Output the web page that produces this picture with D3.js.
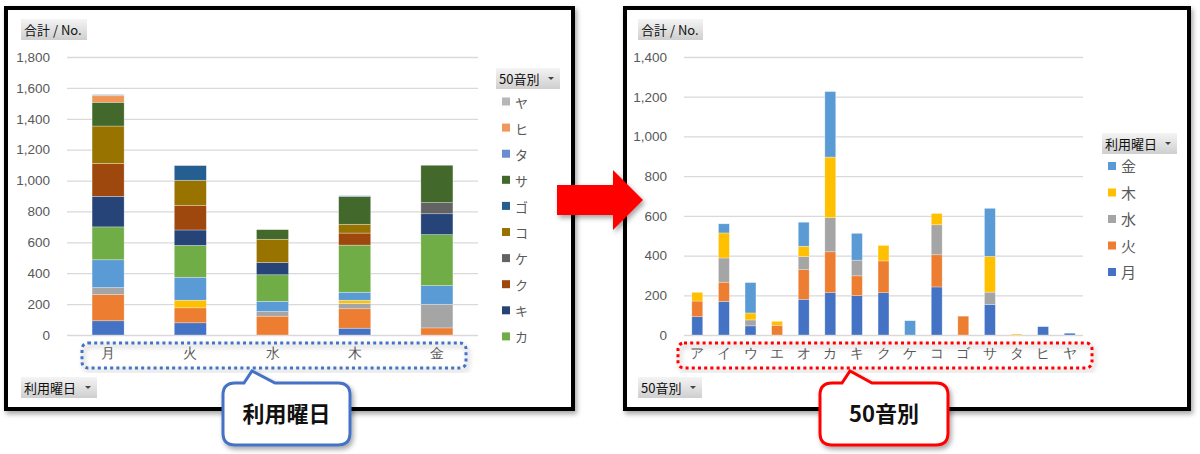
<!DOCTYPE html>
<html>
<head>
<meta charset="utf-8">
<script src="https://cdn.jsdelivr.net/npm/d3@7"></script>
<style>
  body { margin: 0; background: #fff; }
  svg { display: block; font-family: "Noto Sans CJK JP", "Noto Sans", sans-serif; }
  .tick line { stroke: #d9d9d9; }
  .tick text { fill: #595959; }
</style>
</head>
<body>
<div id="chart"></div>
<script>
// pivot charts: same table shown by weekday and by kana

const kana = ['ア', 'イ', 'ウ', 'エ', 'オ', 'カ', 'キ', 'ク', 'ケ', 'コ', 'ゴ', 'サ', 'タ', 'ヒ', 'ヤ'];
const days = ['月', '火', '水', '木', '金'];

// counts per kana, one array per weekday
const mon = [92, 169, 46, 0, 180, 213, 198, 213, 0, 242, 0, 154, 0, 42, 9];
const tue = [79, 97, 0, 49, 149, 206, 100, 160, 0, 162, 95, 0, 0, 0, 0];
const wed = [0, 122, 30, 0, 66, 172, 79, 0, 0, 151, 0, 62, 0, 0, 0];
const thu = [44, 126, 35, 20, 52, 305, 0, 78, 0, 57, 0, 180, 5, 0, 0];
const fri = [0, 46, 153, 0, 121, 330, 135, 0, 72, 0, 0, 242, 0, 0, 0];

const kanaColors = ['#4472C4', '#ED7D31', '#A5A5A5', '#FFC000', '#5B9BD5', '#70AD47', '#264478',
    '#9E480E', '#636363', '#997300', '#255E91', '#43682B', '#698ED0', '#F1975A', '#B7B7B7'];
const dayColors = ['#4472C4', '#ED7D31', '#A5A5A5', '#FFC000', '#5B9BD5'];

const leftTicks = [0, 200, 400, 600, 800, 1000, 1200, 1400, 1600, 1800];
const rightTicks = [0, 200, 400, 600, 800, 1000, 1200, 1400];

// the left legend is scrolled, only these entries show
const leftLegend = ['ヤ', 'ヒ', 'タ', 'サ', 'ゴ', 'コ', 'ケ', 'ク', 'キ', 'カ'];
const rightLegend = ['金', '木', '水', '火', '月'];

const dayValues = [mon, tue, wed, thu, fri];

const svg = d3.select('#chart').append('svg')
    .attr('width', 1200)
    .attr('height', 454);

const defs = svg.append('defs');
const shadow = defs.append('filter').attr('id', 'shadow')
    .attr('x', '-10%').attr('y', '-10%').attr('width', '130%').attr('height', '130%');
shadow.append('feDropShadow')
    .attr('dx', 2).attr('dy', 3).attr('stdDeviation', 2.5)
    .attr('flood-color', '#000').attr('flood-opacity', 0.35);

const btnGrad = defs.append('linearGradient').attr('id', 'btn')
    .attr('x1', 0).attr('y1', 0).attr('x2', 0).attr('y2', 1);
btnGrad.append('stop').attr('offset', '0%').attr('stop-color', '#f4f4f4');
btnGrad.append('stop').attr('offset', '100%').attr('stop-color', '#cfcfcf');

svg.append('rect').attr('width', 1200).attr('height', 454).attr('fill', '#fff');

// frames
svg.append('rect')
    .attr('x', 6).attr('y', 8).attr('width', 567).attr('height', 401)
    .attr('fill', '#fff').attr('stroke', '#000').attr('stroke-width', 4)
    .attr('filter', 'url(#shadow)');
svg.append('rect')
    .attr('x', 625).attr('y', 8).attr('width', 564).attr('height', 401)
    .attr('fill', '#fff').attr('stroke', '#000').attr('stroke-width', 4)
    .attr('filter', 'url(#shadow)');

function button(x, y, w, label, dropdown) {
    let g = svg.append('g').attr('transform', `translate(${x}, ${y})`);
    g.append('rect').attr('width', w).attr('height', 21).attr('fill', 'url(#btn)');
    g.append('text').attr('x', 3).attr('y', 15.5)
        .style('font-size', '13px').style('fill', '#111').text(label);
    if (dropdown) {
        g.append('path')
            .attr('d', `M${w - 12},9 l6,0 l-3,3 z`)
            .attr('fill', '#444');
    }
}

function drawChart(cfg) {
    let g = svg.append('g').attr('transform', `translate(${cfg.left}, ${cfg.top})`);

    let x = d3.scaleBand()
        .domain(cfg.categories)
        .range([0, cfg.width])
        .paddingInner(cfg.padding)
        .paddingOuter(cfg.padding / 2);

    let y = d3.scaleLinear()
        .domain([0, d3.max(cfg.ticks)])
        .range([cfg.height, 0]);

    // gridlines + y labels
    let yAxis = g.append('g')
        .call(d3.axisLeft(y).tickValues(cfg.ticks).tickFormat(d3.format(',')).tickSize(-cfg.width).tickPadding(17));
    yAxis.select('.domain').remove();
    yAxis.selectAll('text').style('font-size', '13.5px');
    yAxis.selectAll('line').attr('stroke', '#d9d9d9').attr('stroke-width', 1.3);

    let stack = d3.stack().keys(cfg.keys)(cfg.rows);

    g.selectAll('.series')
        .data(stack)
        .enter()
        .append('g')
        .attr('fill', (d, i) => cfg.colors[i])
        .selectAll('rect')
        .data(d => d.filter(p => p[1] > p[0]))
        .enter()
        .append('rect')
        .attr('x', d => x(d.data.name))
        .attr('width', x.bandwidth())
        .attr('y', d => y(d[1]))
        .attr('height', d => y(d[0]) - y(d[1]))
        .attr('stroke', 'rgba(255,255,255,0.5)')
        .attr('stroke-width', 0.6);

    // category labels
    let xAxis = g.append('g')
        .attr('transform', `translate(0, ${cfg.height})`)
        .call(d3.axisBottom(x).tickSize(0).tickPadding(13));
    xAxis.select('.domain').remove();
    xAxis.selectAll('text').style('font-size', '14px');

    // dotted box round the labels
    svg.append('rect')
        .attr('x', cfg.box[0]).attr('y', cfg.box[1])
        .attr('width', cfg.box[2]).attr('height', cfg.box[3])
        .attr('rx', 6)
        .attr('fill', 'none')
        .attr('stroke', cfg.boxColor)
        .attr('stroke-width', 3)
        .attr('stroke-dasharray', '3 3.2')
        .attr('filter', 'url(#shadow)');

    // legend
    let lg = svg.append('g').attr('transform', `translate(${cfg.legend.x}, ${cfg.legend.y})`);
    let items = lg.selectAll('g')
        .data(cfg.legend.names)
        .enter()
        .append('g')
        .attr('transform', (d, i) => `translate(0, ${i * cfg.legend.step})`);
    items.append('rect')
        .attr('x', 0).attr('y', -4.5)
        .attr('width', 8).attr('height', 8)
        .attr('fill', d => cfg.legend.color(d));
    items.append('text')
        .attr('x', 13).attr('y', 5.5)
        .style('font-size', cfg.legend.fontSize)
        .style('fill', '#595959')
        .text(d => d);
}

// left: weekday categories, stacked by kana
let leftRows = days.map((d, i) => {
    let row = { name: d };
    kana.forEach((k, j) => { row[k] = dayValues[i][j]; });
    return row;
});

drawChart({
    left: 67, top: 57, width: 411, height: 278,
    categories: days, keys: kana, rows: leftRows, colors: kanaColors,
    ticks: leftTicks, padding: 0.61,
    box: [82, 343, 384, 25], boxColor: '#4472C4',
    legend: {
        x: 502, y: 102, step: 26.1, names: leftLegend, fontSize: '13px',
        color: k => kanaColors[kana.indexOf(k)]
    }
});

// right: kana categories, stacked by weekday
let rightRows = kana.map((k, j) => {
    let row = { name: k };
    days.forEach((d, i) => { row[d] = dayValues[i][j]; });
    return row;
});

drawChart({
    left: 684, top: 57, width: 399, height: 278,
    categories: kana, keys: days, rows: rightRows, colors: dayColors,
    ticks: rightTicks, padding: 0.59,
    box: [678, 343, 414, 25], boxColor: '#FF0000',
    legend: {
        x: 1108, y: 166.5, step: 26.5, names: rightLegend, fontSize: '15px',
        color: d => dayColors[days.indexOf(d)]
    }
});

button(21, 19, 66, '合計 / No.', false);
button(21, 377, 76, '利用曜日', true);
button(496, 68, 64, '50音別', true);
button(638, 19, 65, '合計 / No.', false);
button(638, 377, 64, '50音別', true);
button(1102, 133, 75, '利用曜日', true);

// arrow between the charts
svg.append('path')
    .attr('d', 'M557,185 L613,185 L613,170 L643,200 L613,230 L613,215 L557,215 Z')
    .attr('fill', '#FF0000')
    .attr('filter', 'url(#shadow)');

// callouts
function callout(x0, y0, x1, y1, xa, xb, tx, ty, color, label) {
    let r = 12;
    let d = `M${x0 + r},${y0} L${xa},${y0} L${tx},${ty} L${xb},${y0} L${x1 - r},${y0}` +
        ` Q${x1},${y0} ${x1},${y0 + r} L${x1},${y1 - r} Q${x1},${y1} ${x1 - r},${y1}` +
        ` L${x0 + r},${y1} Q${x0},${y1} ${x0},${y1 - r} L${x0},${y0 + r} Q${x0},${y0} ${x0 + r},${y0} Z`;
    svg.append('path')
        .attr('d', d)
        .attr('fill', '#fff')
        .attr('stroke', color)
        .attr('stroke-width', 3)
        .attr('filter', 'url(#shadow)');
    svg.append('text')
        .attr('x', (x0 + x1) / 2).attr('y', (y0 + y1) / 2 + 8)
        .attr('text-anchor', 'middle')
        .style('font-size', '22px')
        .style('font-weight', 700)
        .style('fill', '#111')
        .text(label);
}

callout(223, 383, 350, 445, 244, 275, 252, 371, '#4472C4', '利用曜日');
callout(820, 383, 948, 445, 842, 872, 850, 371, '#FF0000', '50音別');
</script>
</body>
</html>
